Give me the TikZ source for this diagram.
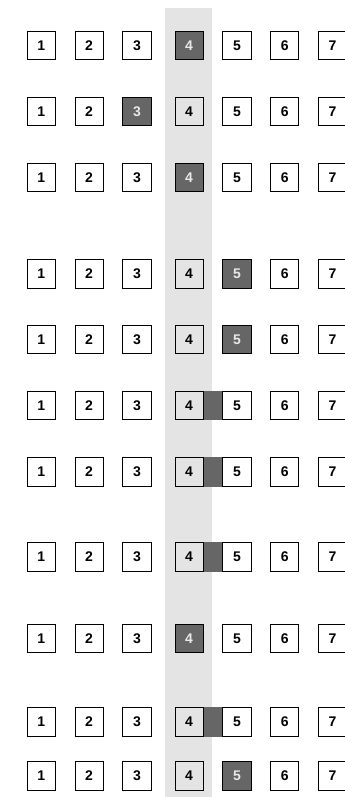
\documentclass[tikz,border=0pt]{standalone}
\usepackage{fontspec}
\setmainfont{Liberation Sans}
\usetikzlibrary{positioning}

\definecolor{bandgray}{HTML}{E4E4E4}
\definecolor{cellgray}{HTML}{666666}
\definecolor{celltext}{HTML}{E8E8E8}

\tikzset{
    cellbox/.style={draw, line width=0.9pt, minimum size=28.2pt, inner sep=0pt,
        font=\fontsize{14}{14}\selectfont\bfseries},
    darkcell/.style={fill=cellgray, text=celltext},
    pick cell/.code={\ifnum#1=\dk\relax\pgfkeysalso{darkcell}\fi}
}

\begin{document}
\begin{tikzpicture}[x=1pt, y=-1pt]
    \useasboundingbox (0,0) rectangle (345,797);
    \fill[bandgray] (165,8) rectangle (212,797);

    % rows: index / y / dark cell / bridge between 4 and 5
    \foreach \r/\y/\dk/\br in {1/45.5/4/0, 2/111.5/3/0, 3/177.5/4/0, 4/274/5/0,
        5/339.5/5/0, 6/405.5/0/1, 7/472/0/1, 8/557/0/1, 9/638.5/4/0,
        10/722/0/1, 11/776/5/0} {
        \node (b\r-1) [cellbox, pick cell=1] at (41.3,\y) {1};
        \foreach \c [evaluate=\c as \p using int(\c-1),
                     evaluate=\c as \gap using {\c==4 ? 23.1 : 18.7}] in {2,...,7}
            \node (b\r-\c) [cellbox, pick cell=\c, right=\gap pt of b\r-\p] {\c};
        \ifnum\br=1
            \fill[cellgray] (b\r-4.north east) rectangle (b\r-5.south west);
        \fi
    }
\end{tikzpicture}
\end{document}
